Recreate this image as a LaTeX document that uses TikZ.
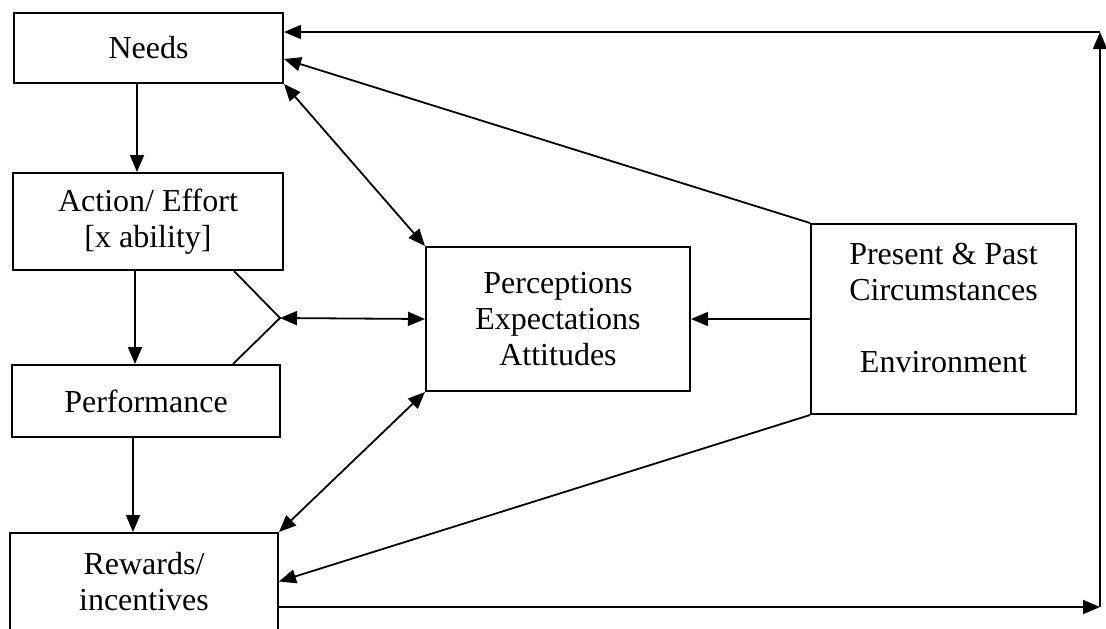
\documentclass[tikz,border=0pt]{standalone}
\usepackage{fontspec}
\setmainfont{Liberation Serif}
\usetikzlibrary{arrows.meta,calc}
\begin{document}
\begin{tikzpicture}[x=0.5pt,y=-0.5pt,
  box/.style={draw,line width=1pt,rectangle,inner sep=0pt,align=center,
    font=\fontsize{16pt}{18pt}\selectfont},
  txt/.style={inner sep=0pt,align=center,font=\fontsize{16pt}{18pt}\selectfont},
  link/.style={line width=0.9pt},
  arr/.style={link,-{Triangle[length=8.5pt,width=7pt]}},
  darr/.style={link,{Triangle[length=8.5pt,width=7pt]}-{Triangle[length=8.5pt,width=7pt]}}]
\useasboundingbox (0,0) rectangle (1106,628);

% boxes
\node[box,minimum width=134.5pt,minimum height=35pt] (needs) at (148.5,48) {Needs};
\node[box,minimum width=135pt,minimum height=48.5pt] (action) at (148,221.5) {Action/ Effort\\{}[x ability]};
\node[box,minimum width=134pt,minimum height=36pt] (perf) at (146,401) {Performance};
\node[box,minimum width=134pt,minimum height=48.5pt] (rewards) at (144,581.5) {Rewards/\\incentives};
\node[box,minimum width=132pt,minimum height=72pt] (percep) at (558,319) {Perceptions\\Expectations\\Attitudes};
\node[box,minimum width=132.5pt,minimum height=95pt] (present) at (943.5,319) {};
\node[txt] (presenttext) at (943.5,308) {Present \& Past\\Circumstances\\[18pt]Environment};

% helper points
\coordinate (c1) at (137,0);
\coordinate (c2) at (135,0);
\coordinate (c3) at (133,0);
\coordinate (jn) at (280,318);
\coordinate (br) at (1100,607);
\coordinate (tr) at (1100,32);

% main chain
\draw[arr] (needs.south -| c1) -- (action.north -| c1);
\draw[arr] (action.south -| c2) -- (perf.north -| c2);
\draw[arr] (perf.south -| c3) -- (rewards.north -| c3);

% bracket joining action and performance
\draw[link] ($(action.south east)+(-50,0)$) -- (jn) -- ($(perf.north east)+(-48,0)$);
\draw[darr] (jn) -- (percep.west);

% perceptions links
\draw[darr] (needs.south east) -- (percep.north west);
\draw[darr] (percep.south west) -- (rewards.north east);

% circumstances links
\draw[arr] (present.west) -- (percep.east);
\draw[arr] (present.north west) -- ($(needs.east)+(0,11)$);
\draw[arr] (present.south west) -- (rewards.east);

% feedback loop
\draw[arr] (rewards.east |- br) -- (br);
\draw[arr] (br) -- (tr);
\draw[arr] (tr) -- (needs.east |- tr);
\end{tikzpicture}
\end{document}
